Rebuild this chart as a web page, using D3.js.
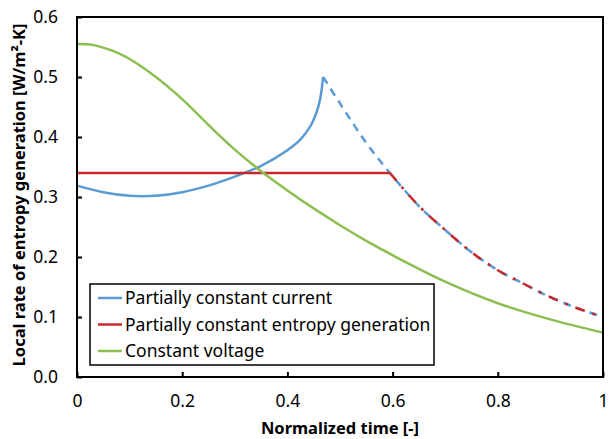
<!DOCTYPE html>
<html>
<head>
<meta charset="utf-8">
<script src="https://cdn.jsdelivr.net/npm/d3@7"></script>
<style>
  body { margin: 0; background: #fff; }
  text { font-family: "Noto Sans", "Open Sans", sans-serif; fill: #000; }
</style>
</head>
<body>
<div id="chart"></div>
<script>
// series
var voltT = [0, 0.025, 0.05, 0.075, 0.1, 0.15, 0.2, 0.25, 0.3, 0.35, 0.4, 0.45, 0.5, 0.55, 0.6, 0.7, 0.8, 0.9, 1.0];
var voltV = [0.555, 0.554, 0.549, 0.541, 0.530, 0.500, 0.463, 0.420, 0.379, 0.343, 0.311, 0.281, 0.253, 0.227, 0.203, 0.159, 0.123, 0.096, 0.074];

var currT = [0, 0.05, 0.1, 0.15, 0.2, 0.25, 0.3, 0.35, 0.4, 0.425, 0.445, 0.455, 0.462, 0.468];
var currV = [0.319, 0.308, 0.302, 0.302, 0.308, 0.319, 0.334, 0.352, 0.378, 0.396, 0.420, 0.440, 0.462, 0.500];

var tailT = [0.468, 0.5, 0.55, 0.595, 0.65, 0.7, 0.75, 0.8, 0.85, 0.9, 0.95, 1.0];
var tailV = [0.500, 0.456, 0.390, 0.340, 0.285, 0.245, 0.208, 0.178, 0.155, 0.133, 0.115, 0.100];

var entT = [0, 0.595];
var entV = [0.34, 0.34];

var xTicks = [0, 0.2, 0.4, 0.6, 0.8, 1];
var yTicks = [0, 0.1, 0.2, 0.3, 0.4, 0.5, 0.6];

var legendNames = ["Partially constant current", "Partially constant entropy generation", "Constant voltage"];
var colors = ["#5B9BD5", "#C8282C", "#8CBF50"];

var svgWidth = 609;
var svgHeight = 439;
var margin = { top: 17, right: 6, bottom: 62, left: 77 };
var width = svgWidth - margin.left - margin.right;
var height = svgHeight - margin.top - margin.bottom;

var svg = d3.select("#chart")
  .append("svg")
  .attr("width", svgWidth)
  .attr("height", svgHeight);

var chartGroup = svg.append("g")
  .attr("transform", `translate(${margin.left}, ${margin.top})`);

var x = d3.scaleLinear().domain([0, 1]).range([0, width]);
var y = d3.scaleLinear().domain([0, 0.6]).range([height, 0]);

function pts(ts, vs) {
  return ts.map((t, i) => [t, vs[i]]);
}

var line = d3.line()
  .x(d => x(d[0]))
  .y(d => y(d[1]))
  .curve(d3.curveCatmullRom.alpha(0.5));

// tails after the red plateau (both series share it)
var tailAll = pts(tailT, tailV);
var tailRed = tailAll.filter(d => d[0] >= 0.595);

// blue solid
chartGroup.append("path")
  .datum(pts(currT, currV))
  .attr("d", line)
  .attr("fill", "none")
  .attr("stroke", colors[0])
  .attr("stroke-width", 2.5);

// blue dashed
chartGroup.append("path")
  .datum(tailAll)
  .attr("d", line)
  .attr("fill", "none")
  .attr("stroke", colors[0])
  .attr("stroke-width", 2.5)
  .attr("stroke-dasharray", "8,6");

// red plateau
chartGroup.append("path")
  .datum(pts(entT, entV))
  .attr("d", line)
  .attr("fill", "none")
  .attr("stroke", colors[1])
  .attr("stroke-width", 2.5);

// red dash-dot on top of the blue tail
chartGroup.append("path")
  .datum(tailRed)
  .attr("d", line)
  .attr("fill", "none")
  .attr("stroke", colors[1])
  .attr("stroke-width", 2.5)
  .attr("stroke-dasharray", "10,8,3,8");

// green
chartGroup.append("path")
  .datum(pts(voltT, voltV))
  .attr("d", line)
  .attr("fill", "none")
  .attr("stroke", colors[2])
  .attr("stroke-width", 2.5);

// axes with inside ticks
var bottomAxis = d3.axisBottom(x).tickValues(xTicks).tickSize(-5).tickPadding(18)
  .tickFormat(d => d === 0 || d === 1 ? d3.format("d")(d) : d3.format(".1f")(d));
var leftAxis = d3.axisLeft(y).tickValues(yTicks).tickSize(-5).tickPadding(19)
  .tickFormat(d3.format(".1f"));

var xAxis = chartGroup.append("g")
  .attr("transform", `translate(0, ${height})`)
  .call(bottomAxis);
var yAxis = chartGroup.append("g").call(leftAxis);

[xAxis, yAxis].forEach(function(ax) {
  ax.select(".domain").remove();
  ax.selectAll(".tick line").attr("stroke", "#000").attr("stroke-width", 2);
  ax.selectAll(".tick text").style("font-size", "17.5px").attr("fill", "#000");
});

// plot frame
chartGroup.append("rect")
  .attr("x", 0)
  .attr("y", 0)
  .attr("width", width)
  .attr("height", height)
  .attr("fill", "none")
  .attr("stroke", "#000")
  .attr("stroke-width", 2);

// legend
var legend = chartGroup.append("g")
  .attr("transform", `translate(${90 - margin.left}, ${284 - margin.top})`);

legend.append("rect")
  .attr("width", 344)
  .attr("height", 81)
  .attr("fill", "#fff")
  .attr("stroke", "#000")
  .attr("stroke-width", 1.5);

legendNames.forEach(function(name, i) {
  var yy = 14 + i * 26.5;
  legend.append("line")
    .attr("x1", 8)
    .attr("x2", 32)
    .attr("y1", yy)
    .attr("y2", yy)
    .attr("stroke", colors[i])
    .attr("stroke-width", 2.5);
  legend.append("text")
    .attr("x", 35)
    .attr("y", yy)
    .attr("dy", "0.35em")
    .style("font-size", "17.5px")
    .text(name);
});

// axis titles
svg.append("text")
  .attr("x", margin.left + width / 2)
  .attr("y", 434)
  .attr("text-anchor", "middle")
  .style("font-size", "16.5px")
  .style("font-weight", "bold")
  .text("Normalized time [-]");

svg.append("text")
  .attr("transform", `translate(25, ${margin.top + height / 2 - 2}) rotate(-90)`)
  .attr("text-anchor", "middle")
  .style("font-size", "16.5px")
  .style("font-weight", "bold")
  .text("Local rate of entropy generation [W/m²-K]");
</script>
</body>
</html>
